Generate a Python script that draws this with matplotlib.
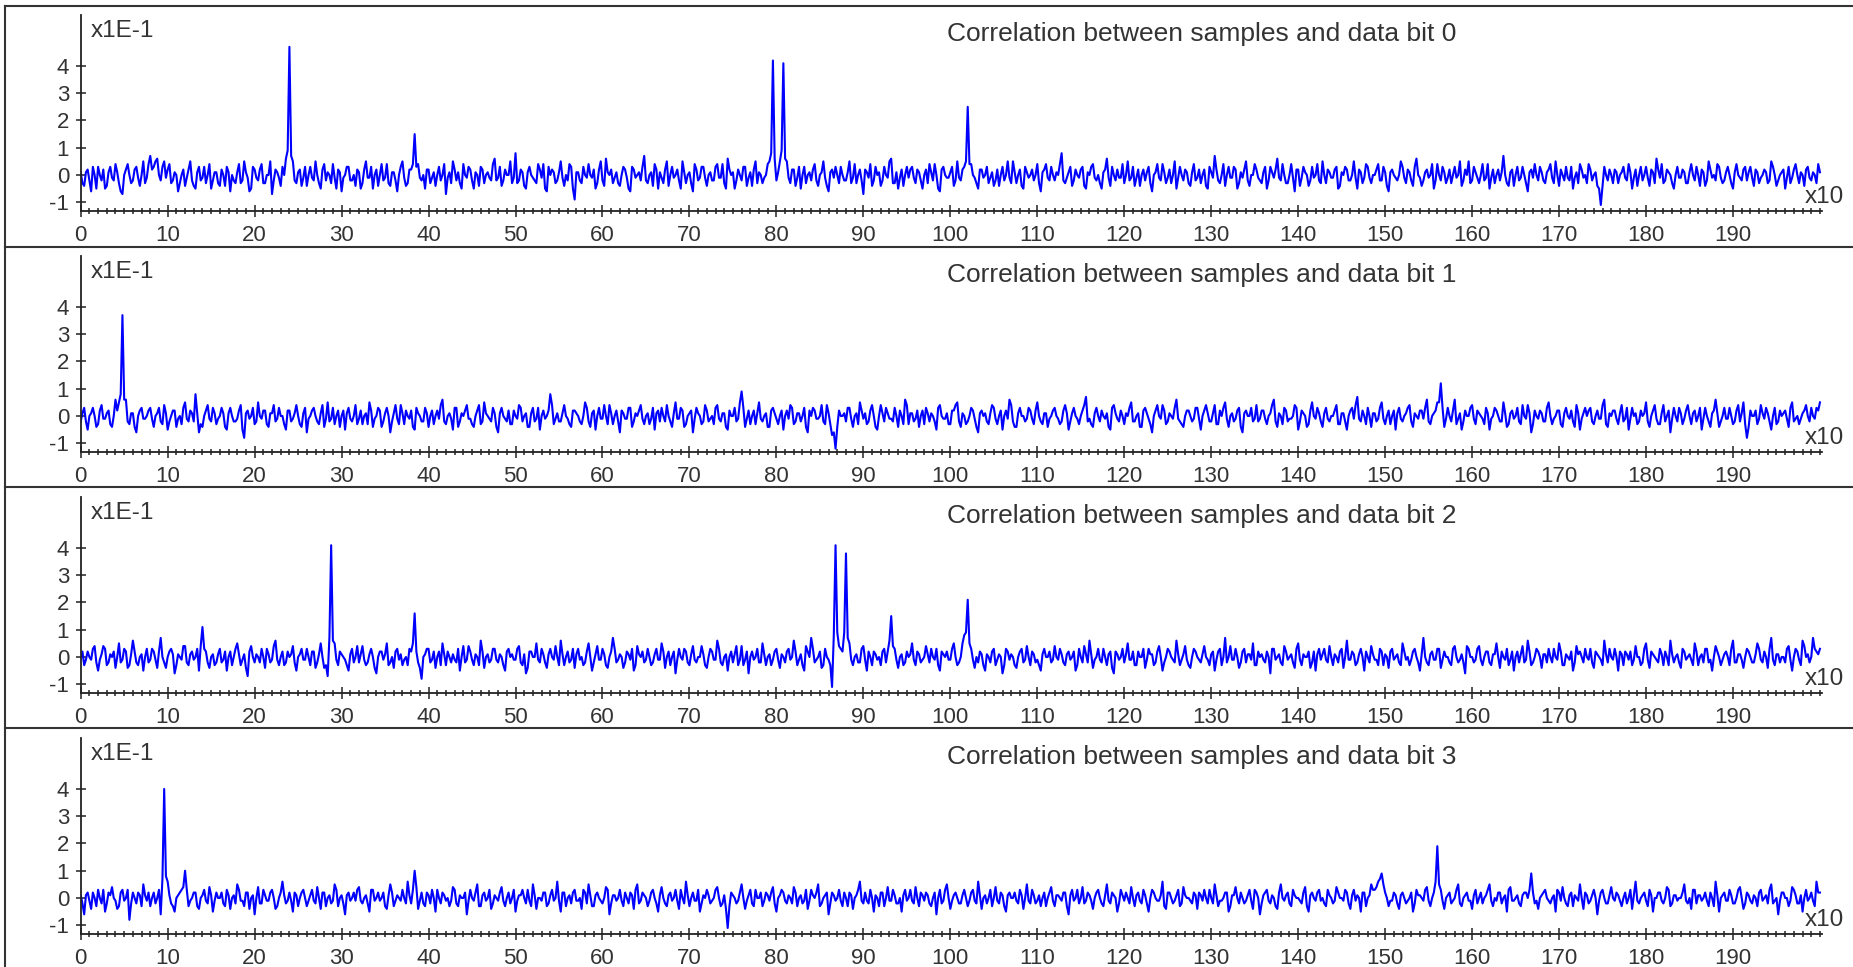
import numpy as np
import matplotlib
matplotlib.use('Agg')
import matplotlib.pyplot as plt
from matplotlib.ticker import MultipleLocator, FixedLocator
from matplotlib.lines import Line2D

plt.rcParams['font.family'] = ['Liberation Sans', 'DejaVu Sans']
plt.rcParams['axes.unicode_minus'] = False

# correlation values, in tenths of the y unit (axis is x1E-1)
# bitN: samples every 0.4 (x10) from 0 to 200; bitN_mid: the samples half way between them
bit0 = [
    1, -4, 2, -6, 0, 3, -2, -5, 1, -1, 4, -3, -7, 2, 0, -2, 3, -4, 5, -1,
    7, 3, 6, -2, 5, 2, -3, 1, -6, 0, -4, 2, -2, -5, 3, -1, -3, 4, -2, 1,
    -4, 0, 3, -6, -2, 1, -3, 5, -1, -5, 2, -2, 4, -3, 0, -7, 2, -1, 3, 6,
    47, 5, -3, 2, -1, -4, 3, -2, 0, -5, 4, 1, -3, -1, 2, -6, 0, 3, -2, -4,
    1, -3, 5, -1, -5, 2, 0, -2, 4, -4, 1, -6, 3, -1, -3, 2, 15, 4, -2, -5,
    2, -1, -4, 3, 0, -7, 1, 5, -2, -3, 4, -1, 2, -5, 0, 3, -3, 1, -2, 6,
    -1, -4, 2, 0, -3, 8, -2, 1, -5, 3, -1, -3, 2, 4, -6, 0, 1, -2, 5, -4,
    -2, 3, -9, 1, -3, 0, 4, -1, -5, 2, -2, 6, 0, -3, 1, -4, 3, -1, -6, 2,
    0, -2, 7, -3, 1, 4, -5, -1, 2, -4, 3, 0, -2, 5, -3, 1, -6, 2, -1, 3,
    -4, 1, -2, 4, -1, -3, 6, 0, -5, 2, -2, 3, -1, -4, 5, 1, -3, 0, 5, 42,
    -2, 5, 41, 5, -3, 2, -1, -5, 3, 0, -2, 4, -4, 1, -1, -6, 2, 3, -3, 0,
    -2, 5, -1, -3, 2, -7, 1, 4, -2, 0, -4, 3, -1, 6, -3, -5, 2, 0, -1, 3,
    -3, 1, -5, 2, 4, -2, 0, -6, 3, -1, 1, -4, 5, -2, 3, 25, 4, -1, -5, 2,
    0, -3, 1, -2, -4, 3, 0, -1, 5, -3, 2, -5, 1, 0, -2, 4, -6, 2, -1, 3,
    -2, 0, 8, -3, 1, -4, 2, -1, 3, -5, 0, 4, -2, -3, 1, 6, -4, 0, 2, -1,
    -3, 5, -1, -4, 2, 0, -2, 3, -6, 1, -1, 4, -3, 2, 0, -5, 3, -2, 1, -4,
    4, -1, -3, 2, -5, 1, 7, -2, 0, -4, 3, -1, 2, -3, -1, 5, -4, 0, 2, -2,
    1, -5, 3, -1, 6, -2, 0, -3, 4, -6, 2, -1, 1, -4, 3, 0, -2, 5, -3, 1,
    -1, 3, -4, 0, 2, -2, 5, -5, 1, -1, 3, -3, 0, 4, -2, 1, -6, 2, -1, 0,
    3, -3, 1, -4, 6, -1, -2, 2, 0, -5, 4, -2, 1, -1, -3, 3, 0, -4, 2, 5,
    -2, 1, -3, 4, -1, -5, 2, 0, -2, 7, -3, 1, -4, 3, -1, 0, -6, 2, 4, -2,
    1, -3, 2, -1, 5, -4, 0, 3, -2, -5, 1, 4, -1, -3, 2, 0, -4, -11, 3, -2,
    0, 2, -3, 1, -1, 4, -5, 2, 0, -2, 3, -4, 1, 6, -1, -3, 2, 0, -5, 3,
    -1, 1, -3, 4, -2, 0, 2, -4, 5, -1, -2, 3, -3, 1, 0, -5, 4, -1, 2, -2,
    3, -4, 1, -1, 2, -3, 5, 0, -2, 1, -5, 3, -1, 4, -3, 0, 2, -1, 1, -3,
    1,
]
bit0_mid = [
    -3, 1, -2, 3, -5, 0, 2, -4, 3, -2, 1, -6, 0, 4, -3, 2, -1, 0, -3, 4,
    2, 5, 0, 3, -1, 4, -2, 0, -3, 2, -1, 5, -4, 1, -2, 3, 0, -5, 1, -3,
    2, -4, 1, 0, -3, 4, -2, 1, -6, 3, -1, 2, -3, 0, 5, -2, 1, -4, 0, 9,
    7, -2, 1, -4, 3, 0, -1, 5, -3, 2, -2, 0, 4, -5, 1, -1, 3, -2, 0, 2,
    -5, 2, -1, 3, 0, -4, 4, -1, -3, 1, -2, 0, 5, -4, 2, 4, 3, -1, 0, 2,
    -3, 1, 0, -2, 4, -1, -3, 2, 1, -5, 0, 3, -2, 1, -4, 2, 0, -1, 4, -2,
    3, -2, 0, 5, -1, -3, 2, -4, 1, 0, -2, 4, -1, -5, 3, 2, -3, 1, -1, 0,
    4, -5, 1, -2, 3, -1, 0, 2, -3, 5, -4, 1, 2, -1, -3, 0, 2, -5, 3, -1,
    1, 3, -2, 0, -4, 2, 1, -3, 5, 0, -1, 2, -5, 1, 0, -3, 4, -2, 3, -1,
    0, -2, 3, -1, 4, -5, 2, 1, -2, 0, 3, -4, 1, 2, -3, 0, -1, 4, 8, 6,
    1, 9, 6, -1, 2, -4, 3, 0, -3, 1, 2, -2, 0, 5, -4, 1, -1, 0, 3, -2,
    1, -3, 4, 0, -2, 2, -1, -4, 3, 1, -2, 0, 5, -3, 1, -1, -4, 3, 2, -1,
    2, -2, 0, -3, 1, 4, -5, 2, 0, -1, 3, -2, -1, 2, 5, 4, 0, -3, 2, -1,
    3, -1, -4, 2, 0, -2, 5, -3, 1, 0, -4, 3, -1, 2, 0, -3, 1, 4, -2, 0,
    1, 4, -2, -1, 3, -2, 0, 2, -4, 1, 3, -1, 0, -5, 2, -1, 3, -2, -1, 4,
    0, -2, 3, -1, -4, 2, 1, -3, 0, 4, -2, 1, -1, -3, 5, -1, 0, 2, -3, 1,
    -2, 2, 0, -4, 3, -1, 2, -3, 4, 0, -1, 3, -5, 1, 2, -2, 0, 4, -1, -3,
    3, -2, 1, 2, -1, 4, -3, 0, -1, 2, -4, 3, 0, -2, -1, 4, -3, 0, 2, -1,
    2, -5, 1, 3, -2, 0, -1, 2, -3, 4, -1, 0, 2, -2, 3, -4, 1, 0, -2, 5,
    -1, 2, -2, 3, 0, -4, 1, -1, 4, -2, 0, 3, -3, 2, 0, -1, 5, -2, 0, -3,
    3, -1, 0, -2, 4, -1, -3, 2, 1, 0, -4, 2, 0, -2, 3, -3, 1, -1, 0, 3,
    -2, 1, 4, -3, 0, 2, -2, -1, 3, -1, -3, 2, 0, 4, -2, 1, -5, -4, 0, 2,
    -3, 1, 0, 3, -2, 1, -1, -4, 3, 0, -1, 2, -3, 2, 4, -2, 1, -3, 0, -1,
    2, -3, 1, 0, 3, -4, 1, -2, 2, 0, 4, -1, -2, 3, -3, 1, 0, -2, 3, 1,
    -1, 2, -3, 0, 1, -2, 3, -4, 0, 2, -1, -3, 2, 0, 1, -4, 3, -2, 0, 4,
]

bit1 = [
    -2, 3, -5, 1, 0, -3, 4, -1, 2, -4, 6, 5, 37, 6, -3, 1, -6, 2, -1, 0,
    3, -4, 1, -2, 4, -5, 0, 2, -1, -3, 5, -2, 1, 8, -6, -4, 2, -1, 3, -3,
    0, 1, -5, 3, -2, -1, 4, -8, 2, 0, -3, 5, -1, 2, -4, 1, -2, 3, 0, -5,
    2, -1, 4, -3, 1, -6, 0, 3, -2, 1, -4, 5, -1, -3, 2, 0, -5, 3, -2, 4,
    -1, -3, 1, 5, -4, 0, 2, -2, 3, -6, 1, -1, 4, -3, 0, 2, -5, 1, -2, 3,
    -4, 2, 0, -1, 6, -3, 1, -5, 3, -2, 0, 4, -1, -4, 2, -3, 5, 0, -2, 1,
    -6, 3, -1, 2, -3, 0, 4, -2, 1, -4, 3, -1, -5, 2, 0, 8, -3, 1, -2, 4,
    -1, -4, 2, 0, -3, 5, -2, 1, -5, 3, -1, 0, 4, -3, 2, -6, 1, -1, 3, -2,
    0, 4, -3, 1, -1, -5, 2, 3, -2, 0, -4, 5, -1, 2, -3, 1, -6, 3, 0, -2,
    2, -1, -3, 4, -2, 1, -5, 0, 3, -1, 9, -4, 2, 0, -3, 5, -2, 1, -4, 3,
    -1, 0, -5, 2, 4, -3, 1, -2, 3, -6, 0, 2, -1, 4, -3, 1, -7, -12, 2, 0,
    -2, 3, -4, 1, 5, -1, -3, 2, 0, -5, 4, -2, 1, -1, 3, -4, 0, 6, -3, 1,
    -1, -4, 2, 3, -2, 0, -5, 4, -1, 1, -3, 2, 5, -4, 0, -2, 3, -1, -6, 2,
    1, -3, 4, -1, 0, -5, 2, 6, -2, -4, 3, 0, -1, 2, -3, 5, -2, 1, -4, 0,
    3, -1, -2, 4, -5, 1, 0, -3, 2, 7, -1, -4, 3, -2, 0, 1, -5, 4, -1, 2,
    -3, 0, 5, -2, 1, -4, 3, -1, -6, 2, 0, 4, -3, 1, -1, 6, -2, -4, 2, 0,
    -1, 3, -5, 2, 1, -2, 4, -3, 0, 5, -4, 1, -1, 3, -6, 2, 0, -2, 4, -1,
    2, -3, 1, 6, -4, 0, 3, -2, -1, 4, -5, 2, 0, -3, 5, -1, 1, -4, 3, -2,
    0, 4, -3, 1, -5, 2, -1, 7, -2, 0, 3, -4, 1, -1, 5, -3, 2, 0, -5, 3,
    -2, 1, 4, -4, 0, 2, -1, 6, -3, 1, 5, 12, -4, 3, -2, 6, -1, -5, 2, 0,
    4, -3, 1, -1, 3, -5, 0, 2, -2, 5, -4, 1, -1, 3, -3, 0, 4, -6, 2, -1,
    1, -2, 5, -3, 0, 2, -4, 3, -1, -2, 4, -5, 1, 0, 3, -3, 2, -1, 6, -4,
    0, 2, -3, 4, -1, -5, 3, 1, -2, 0, 5, -4, 2, -1, -3, 4, 0, -6, 3, -2,
    1, -1, 4, -3, 2, 0, -5, 3, -2, 1, 6, -4, 0, -1, 3, -3, 2, -2, 5, -8,
    2, 0, -3, 4, -1, 1, -5, 3, -2, 0, 2, -4, 5, -1, -3, 1, 4, -2, 0, 3,
    5,
]
bit1_mid = [
    1, -2, 0, 3, -4, 2, -1, 1, -3, 0, 2, 8, 6, -2, 1, -4, 0, 3, -1, 2,
    -1, 0, 3, -3, 1, -2, 2, -4, 0, 3, -1, 2, -2, 1, -3, 0, 4, -2, 1, -1,
    3, -4, 1, 0, -2, 2, -5, 1, -1, 3, -2, 0, 2, -3, 1, 4, -1, 0, -3, 2,
    -2, 1, 0, -4, 3, -1, 2, 0, -3, 4, -1, -2, 3, 0, -4, 2, 1, -1, 0, -3,
    2, 0, -3, 2, -1, 3, -4, 1, 0, -2, 4, -3, 1, 2, -1, -4, 3, 0, -2, 1,
    0, -3, 2, 4, -2, 0, -1, 3, -4, 1, 2, -1, -3, 0, 4, -2, 1, -1, 3, -4,
    1, 0, -2, -3, 2, -1, 3, 0, -4, 1, -2, 3, 0, -1, 2, 4, -1, -2, 1, 0,
    -3, 2, 1, -2, 0, 3, -4, 2, 0, -1, 4, -3, 1, 0, -2, 2, -1, 3, -4, 1,
    2, -1, 0, -3, 3, 1, -2, 0, 4, -2, 1, -1, 3, -4, 0, 2, -1, 1, -3, 4,
    -2, 0, 3, -1, 1, -4, 2, 0, -2, 5, 3, -1, -3, 2, 1, -1, 0, -4, 2, 1,
    -3, 2, 0, -1, 3, -2, 1, 0, -4, 2, 3, -1, 0, -2, 4, -3, -6, -4, 0, 1,
    3, -1, 0, -3, 2, 1, -2, 4, -4, 0, 1, 3, -1, -2, 0, 2, -3, 4, 1, -2,
    2, 0, -3, 1, 1, -2, 3, 0, -1, -3, 2, 4, -2, 1, -3, 0, 2, -4, 1, 0,
    -2, 1, 3, -3, 2, 0, -1, 4, -4, 1, 0, -2, 3, -1, 2, 0, -3, 1, -1, 2,
    0, -3, 2, 1, -2, 3, -1, 0, 4, -2, -3, 1, 0, 2, -1, -4, 3, 1, -2, 0,
    1, 3, -2, 0, -4, 2, 1, -3, 0, 4, -1, 2, -2, 0, 3, -1, -3, 0, 2, -2,
    3, -1, 0, 4, -2, 1, -3, 2, 3, -1, 0, -2, 2, -4, 1, 0, 3, -1, -2, 2,
    -1, 0, 4, -2, 1, -3, 2, -1, 0, 3, -2, 1, -4, 2, 0, 3, -2, 1, -1, 0,
    2, -3, 1, -2, 0, 3, 4, -1, 2, -3, 0, 1, -2, 3, -1, 0, -3, 2, 1, -1,
    0, 3, -2, 1, -1, 2, 3, -2, 0, 2, 5, 3, -1, 0, 2, -3, 1, -2, 0, 3,
    -1, 2, 0, -3, 1, -1, 3, 0, -2, 1, -3, 2, 0, -2, 4, -1, 1, -3, 0, 2,
    -2, 3, 0, -1, 2, -3, 1, 0, 2, -4, 1, -1, 3, 2, -2, 0, -1, 4, -3, 1,
    2, -1, 1, -2, 3, -1, 0, -3, 2, 1, -2, 0, 4, -3, 1, -2, 2, -1, 0, 3,
    -3, 2, 0, 1, -2, 3, -1, 0, -4, 2, 1, -2, 3, -1, 0, -2, 4, 1, -3, -4,
    0, 2, -1, 1, 3, -2, 0, -3, 2, 1, -1, 3, -2, 0, -1, 2, 0, 3, -1, 2,
]

bit2 = [
    0, -3, 2, -1, 4, -5, 1, 3, -2, 0, -4, 5, -1, 2, -3, 6, -2, 0, -5, 3,
    -1, 2, -4, 7, -2, 0, 3, -6, 1, -1, 4, -3, 2, 0, -5, 11, 2, -4, 1, -2,
    3, -1, -5, 2, 0, 5, -3, 1, -7, 4, -2, 0, 3, -4, 1, -1, 6, -3, 2, -2,
    0, 4, -5, 1, -1, 3, -3, 2, -2, 5, -4, -7, 41, 5, -3, 1, -1, -5, 3, 0,
    -2, 4, -3, 1, 0, -6, 2, -1, 5, -2, -4, 3, 1, -1, -3, 2, 16, -2, -8, 1,
    3, -1, -4, 2, 5, -3, 0, 1, -2, -5, 4, -1, 2, -3, 0, 6, -4, 1, -1, 3,
    -2, 0, -5, 3, 1, -1, 4, -3, -6, 2, 0, 5, -2, 1, -4, 3, -1, 0, 6, -3,
    2, -1, -4, 3, 0, -2, 5, -5, 1, -1, 3, -3, 0, 7, -2, 1, -4, 2, -1, -5,
    4, 0, -2, 3, -3, 1, -1, 5, -4, 2, 0, -6, 3, -1, 2, -3, 4, -2, 0, 1,
    -4, 3, -1, 6, -2, 0, -5, 2, 1, -3, 4, -1, -6, 2, 0, -2, 5, -3, 1, -1,
    3, -4, 0, 2, -1, 6, -3, 1, -5, 2, 7, -2, 0, -4, 3, -1, -11, 41, 4, 2,
    38, 5, -3, 1, -2, 4, -5, 0, 2, -1, -3, 3, 2, 15, 3, -4, 1, -2, 0, 5,
    -3, 1, -1, 4, -2, 0, 3, -5, 1, 2, -1, 5, -3, 0, 8, 21, 3, -4, -2, 1,
    -5, 0, 2, -3, 1, -6, 3, -1, 0, -4, 2, -2, 4, -3, 1, -1, -5, 3, 0, -2,
    4, -1, 1, -3, 2, 0, -5, 3, -2, 1, 6, -4, 0, -1, 3, -3, 2, -6, 1, 0,
    -2, 5, -1, -3, 2, 0, -4, 3, 1, -2, 4, -5, 0, 2, -1, 6, -3, 1, -1, -4,
    3, 0, -2, 4, -1, 1, -5, 2, -3, 7, 0, -1, 3, -4, 2, -2, 1, 5, -3, 0,
    -1, 2, -6, 3, 0, -2, 4, -1, 1, -4, 5, -3, 0, 2, -2, -5, 3, 1, -1, 4,
    -3, 0, 2, -4, 6, -1, 1, -2, 3, -5, 0, 4, -1, -3, 2, 1, -4, 3, 0, -2,
    5, -1, -3, 2, 0, -5, 7, -2, 1, -1, 3, -4, 2, 0, -3, 4, -2, 1, -6, 3,
    0, -1, 4, -3, 2, -2, 1, 5, -4, 0, 3, -1, -5, 2, 1, -2, 6, -3, 0, 2,
    -4, 1, 3, -2, 0, 5, -3, 1, -1, -5, 4, 2, -2, 0, 3, -4, 1, -1, 6, -2,
    0, 3, -5, 1, 2, -1, -3, 4, 0, -2, 5, -4, 1, -1, 3, -3, 0, 6, -2, 1,
    -4, 2, 0, -1, 5, -3, 1, 3, -2, -5, 4, 0, -1, 2, -3, 6, -2, 1, -4, 3,
    0, -2, 5, -1, 2, -4, 7, -3, 1, 0, -2, 4, -5, 3, -1, 6, 0, -2, 7, 2,
    3,
]
bit2_mid = [
    2, -1, 0, 3, -2, -1, 4, -3, 1, 2, 0, -2, 3, -4, 1, 2, -3, 1, 0, -2,
    3, -1, 2, 0, -4, 2, 1, -3, 0, 4, -2, 1, -1, 3, 4, 3, -2, 0, -3, 1,
    -2, 2, 0, -3, 3, 1, -1, -4, 2, 0, 1, -2, 0, 3, -2, 4, -1, 0, -3, 2,
    1, -2, 0, 3, -1, 0, 2, -4, 1, 0, -3, 7, 6, -1, 2, 0, -3, 1, -2, 4,
    1, -1, -2, 3, -4, 0, 2, 1, -3, 0, 2, -1, -3, 0, 3, 5, 2, -4, 0, 3,
    -2, 2, 0, -3, 1, 2, -2, -1, 3, 0, -2, 4, -1, 1, -3, 2, 0, -2, 3, -1,
    1, -3, 2, 0, -1, 3, -2, 1, -4, 2, 0, -1, 3, -2, 1, 0, 4, -3, 1, 0,
    -2, 3, 1, -1, -3, 2, 0, -2, 4, -1, 1, -4, 2, 3, -1, 0, -2, 1, 3, -3,
    1, 2, -1, 0, -2, 3, -1, 2, 0, -3, 2, -1, 0, 3, -2, 1, -1, 0, 4, -3,
    0, 2, -1, 3, -3, 1, 0, -2, 4, -1, -3, 2, 0, -1, 3, -2, 1, 0, -3, 2,
    -1, 1, -2, 3, 0, 2, -1, -3, 4, 0, 3, -1, 2, -3, 0, -3, 8, 9, 3, 9,
    7, -1, 0, -2, 3, -1, 2, -3, 1, 0, 2, -2, 6, 4, -1, 0, -3, 2, 1, -1,
    2, -2, 0, 1, 3, -1, -3, 2, 0, -1, 3, 0, -2, 5, 9, 5, -1, 0, 2, -3,
    1, -2, 3, -1, 0, -3, 2, 1, -3, 0, 3, -1, 0, 2, -2, -3, 1, 0, 2, -1,
    0, 3, -2, 1, -1, 2, -3, 0, 4, -2, 1, -1, 3, -2, 0, 1, -4, 2, -1, 3,
    1, -1, 2, -3, 0, 3, -1, 1, -3, 2, 0, -2, 3, 0, -2, 1, -1, 4, -3, 0,
    2, -1, 1, 0, -3, 2, -1, 3, 0, -2, 4, -1, 0, -2, 3, 1, -1, -3, 2, 1,
    -2, 0, 3, -1, 1, -3, 2, 0, -2, 3, -1, 1, 0, -4, 2, 1, -1, 3, -2, 0,
    1, -2, 3, 0, -1, 2, -3, 1, 0, 2, -2, 1, -1, 3, -3, 0, 2, -1, 1, -3,
    2, 0, -1, 3, -2, 1, 0, -3, 2, -1, 3, -1, 0, -2, 3, 0, -1, -2, 4, 0,
    -2, 3, -1, 0, 2, -3, 1, 0, 2, -1, -3, 2, 0, -2, 4, -1, 2, -2, 3, 0,
    1, -2, 0, 3, -1, 2, -3, 0, 2, -2, 1, 0, 3, -1, -2, 2, 0, -3, 1, 3,
    -1, 0, 2, -3, 1, 2, -1, 0, -3, 3, -1, 2, 0, -2, 1, 2, -3, 1, 0, -2,
    3, -1, 1, -3, 2, 0, -2, 3, -1, 0, 2, -3, 1, 0, 3, -2, 1, -1, 0, 2,
    -2, 1, 3, -2, 0, 3, -1, 1, -2, 0, 3, -1, 0, 2, -3, 4, 1, 0, 3, 1,
]

bit3 = [
    1, -6, 2, -4, 0, 3, -2, -5, 2, 4, -1, -3, 3, 0, -8, 2, -2, 1, 5, -1,
    -3, 2, 0, -6, 40, 6, -2, -5, 1, 3, 10, -3, 0, 2, -4, 1, -1, 4, -5, 2,
    0, -2, 3, -4, 1, 5, -1, -3, 2, 0, -6, 4, -2, 1, -1, 3, -4, 0, 6, -2,
    2, -5, 1, 0, 3, -3, 1, -1, 4, -4, 2, 0, -2, 5, -3, 1, -6, 2, 0, -1,
    4, -2, 1, -5, 3, 0, -1, 2, -4, 5, -3, 1, -1, 0, 6, -2, 10, -4, 2, -3,
    1, 3, -5, 0, 2, -1, -3, 4, -2, 1, 0, -6, 3, -1, 5, -3, 2, 0, -4, 1,
    -1, 4, -3, 2, 0, -5, 1, 3, -2, -1, 5, -4, 0, 2, -3, 1, -1, 6, -5, 2,
    0, -2, 3, -1, -4, 2, 5, -3, 1, 0, -2, 4, -6, 1, -1, 3, -3, 0, 2, -4,
    5, -1, 1, -3, 2, 0, -5, 4, -2, 1, -1, 3, -4, 0, 6, -3, 2, -1, -5, 1,
    3, -2, 0, 4, -3, 1, -11, 2, 0, -1, 5, -4, 1, -2, 3, 0, -3, 2, -1, 4,
    -5, 1, 2, -2, 0, 4, -3, 1, -1, -4, 3, 0, 5, -2, 1, -6, 2, -1, 3, -3,
    0, 2, -4, 1, 6, -2, -1, 3, -5, 0, 2, -3, 4, -1, 1, -2, -5, 3, 0, -1,
    4, -3, 1, 2, -2, 0, -6, 3, -1, 5, -4, 1, 0, -2, 3, -3, 2, -1, 6, -4,
    1, 0, -3, 4, -2, 1, -5, 2, 0, -1, 3, -4, 5, -2, 1, -1, -3, 2, 0, 4,
    -3, 1, -1, 2, -6, 3, 0, -2, 4, -1, 1, -4, 2, 0, -3, 5, -2, 1, -5, 3,
    -1, 0, 4, -3, 2, -2, 1, -5, 3, 0, -1, 6, -4, 2, -2, 1, -3, 4, 0, -1,
    2, -4, 1, 3, -2, 0, 5, -3, -1, 2, -5, 1, 4, -2, 0, -1, 3, -4, 2, -6,
    1, 3, -2, 0, -4, 5, -1, 2, -3, 1, 0, -2, 4, -5, 2, -1, 3, 0, -3, 1,
    -2, 4, 0, -1, 2, -4, 3, 1, -5, 2, 0, 5, 3, 6, 9, 2, -3, -1, 1, -4,
    2, -2, 0, -5, 3, 1, -1, 4, -3, 2, 19, 3, -4, 1, -2, 0, 5, -3, 1, -1,
    -4, 3, 0, -2, 1, 5, -3, -1, 2, 0, -5, 4, -1, 1, -3, 2, 0, 9, -2, -4,
    1, 3, -1, 0, -5, 2, 4, -2, 1, -3, 0, 5, -4, 1, -1, 3, -6, 2, 0, -2,
    4, -1, 1, -3, 2, 0, -4, 6, -2, 1, -1, 3, -5, 0, 2, -2, 4, -3, 1, -1,
    0, 5, -2, -4, 3, 1, -1, 2, -3, 0, 6, -5, 1, -1, 3, -2, 0, 4, -4, 2,
    -1, 1, -3, 3, 0, -2, 5, -1, -6, 2, 0, -3, 4, 1, -2, -5, 3, 0, -1, 6,
    2,
]
bit3_mid = [
    -2, 1, -1, 2, -3, 0, 3, -2, 1, 0, -4, 2, -1, 3, -2, 0, 2, -3, 1, 2,
    0, -2, 3, 7, 8, 1, -3, 0, 2, 4, 3, -1, 2, -3, 0, 3, -2, 1, -1, 0,
    2, -3, 1, 0, -2, 3, -1, 2, -4, 1, 0, -2, 3, -1, 2, 0, -3, 2, 1, -1,
    -1, 2, -3, 2, 0, -1, 3, -2, 0, 2, -3, 1, -1, 3, 0, -2, 1, -1, 2, 3,
    -1, 0, -2, 3, -1, 2, 0, -3, 1, 2, -1, 0, 3, -2, 1, 3, 4, -1, -2, 2,
    -2, 0, 3, -2, 1, 0, -1, 3, -3, 0, 2, -1, 0, 2, -3, 1, -1, 3, -2, 0,
    2, -1, 0, -2, 3, -1, 1, 0, 3, -3, 1, 0, -1, 2, -2, 3, 0, -1, 2, -3,
    1, 2, -1, 0, 3, -2, 1, -3, 2, -1, 0, 3, -2, 1, 0, -1, 2, -2, 1, 3,
    -2, 2, 0, -1, 3, -2, 1, 0, -3, 2, 0, -1, 3, -2, 1, 0, -1, 3, -2, 0,
    1, -1, 3, 0, -2, -4, -3, 1, -2, 2, 0, -1, 3, -3, 0, 2, -1, 1, 2, -2,
    0, 3, -1, 1, -2, 2, 0, -2, 3, -1, 1, 2, -3, 0, 2, -2, 1, 0, -1, 2,
    -3, 1, 0, 3, -1, 2, -2, 0, 1, -3, 2, 0, -1, 3, -2, 0, 1, -1, 3, -2,
    0, 2, -1, 1, -3, 2, 0, -2, 3, 0, -1, 2, -2, 1, 0, -1, 3, -2, 1, 0,
    -2, 3, 0, -1, 2, -3, 1, 0, 2, -2, 1, 0, -1, 3, -2, 1, 0, -3, 2, -1,
    1, 0, 2, -3, 1, -1, 3, 0, -2, 2, -1, 0, 3, -2, 1, -1, 2, 0, -2, 1,
    2, -2, 0, 1, -1, 3, -2, 0, 2, -1, 1, -3, 2, 0, -1, 3, -2, 1, 0, -2,
    1, 2, -1, 0, 3, -2, 1, -1, 0, 2, -3, 1, 0, 2, -2, 1, -1, 3, 0, -2,
    2, -1, 1, -3, 2, 0, 1, -2, 3, 0, -1, 2, -3, 1, 0, 2, -1, -2, 3, 0,
    -1, 2, 0, 3, -2, 1, -1, 0, 2, -3, 1, 3, 4, 7, 5, 0, -1, 2, -2, 1,
    0, -1, 2, -2, 1, 0, 3, -1, 0, 6, 5, -1, 0, 2, -1, 3, -2, 0, 2, -1,
    1, -2, 2, 0, 3, -1, 0, 2, -2, 1, 3, -1, 0, -2, 1, 2, 3, 2, -1, 0,
    2, 0, -2, 1, 3, -1, 0, -3, 2, 1, -1, 0, 2, -2, 1, 0, -1, 3, -2, 1,
    0, 2, -1, 0, -2, 3, 1, -1, 0, 2, -3, 1, 0, 2, -1, 0, 3, -2, 1, 0,
    2, -1, 0, 3, -2, 1, 0, -1, 2, -3, 1, 0, 2, -1, 1, -2, 3, 0, -2, 1,
    -2, 0, 2, -1, 1, 3, -2, 0, -1, 2, 0, -1, 3, -2, 1, 0, -1, 2, -3, 2,
]

series = [(bit0, bit0_mid), (bit1, bit1_mid), (bit2, bit2_mid), (bit3, bit3_mid)]
titles = ['Correlation between samples and data bit 0',
          'Correlation between samples and data bit 1',
          'Correlation between samples and data bit 2',
          'Correlation between samples and data bit 3']
y_ticks = [-1, 0, 1, 2, 3, 4]

W, H = 1853, 967
fig = plt.figure(figsize=(W / 100, H / 100), dpi=100)
fig.patch.set_facecolor('white')

txt = '#333333'
axc = '#222222'

for k, (main, mid) in enumerate(series):
    top = 15 + 241 * k
    bot = 210.7 + 241 * k
    ax = fig.add_axes([80.7 / W, 1 - bot / H, 1741 / W, (bot - top) / H])

    # interleave the samples with the half-way samples
    n = min(len(main), len(mid) + 1)
    y = np.empty(2 * n - 1)
    y[0::2] = main[:n]
    y[1::2] = mid[:n - 1]
    y = y / 10.0
    x = np.linspace(0, 200, len(y))
    ax.plot(x, y, color='#0000ff', lw=1.5)

    ax.set_xlim(0, 200.2)
    ax.set_ylim(-1.31, 5.87)
    for s in ['top', 'right']:
        ax.spines[s].set_visible(False)
    for s in ['left', 'bottom']:
        ax.spines[s].set_color(axc)
        ax.spines[s].set_linewidth(1.3)

    ax.xaxis.set_major_locator(MultipleLocator(10))
    ax.xaxis.set_minor_locator(MultipleLocator(1))
    ax.set_xticks(np.arange(0, 200, 10))
    ax.yaxis.set_major_locator(FixedLocator(y_ticks))
    ax.tick_params(axis='x', which='major', direction='inout', length=8, width=1.1,
                   color=axc, labelsize=16, labelcolor=txt, pad=6)
    ax.tick_params(axis='x', which='minor', direction='inout', length=4.5, width=1.1,
                   color=axc)
    ax.tick_params(axis='y', direction='inout', length=6.5, width=1.1,
                   color=axc, labelsize=16, labelcolor=txt, pad=5)

    ax.text(1.2, 5.3, 'x1E-1', ha='left', va='center', fontsize=17.5, color=txt)
    ax.text(128.9, 5.17, titles[k], ha='center', va='center', fontsize=19, color=txt)
    ax.text(198.3, -0.8, 'x10', ha='left', va='center', fontsize=17.5, color=txt,
            clip_on=False)

# panel frames
for yp in [6, 246.5, 487, 727.5]:
    fig.add_artist(Line2D([5 / W, 1], [1 - yp / H, 1 - yp / H],
                          transform=fig.transFigure, color='#333333', lw=1.5))
fig.add_artist(Line2D([5 / W, 5 / W], [0, 1 - 6 / H],
                      transform=fig.transFigure, color='#333333', lw=1.5))

fig.savefig('out.png', dpi=100)
